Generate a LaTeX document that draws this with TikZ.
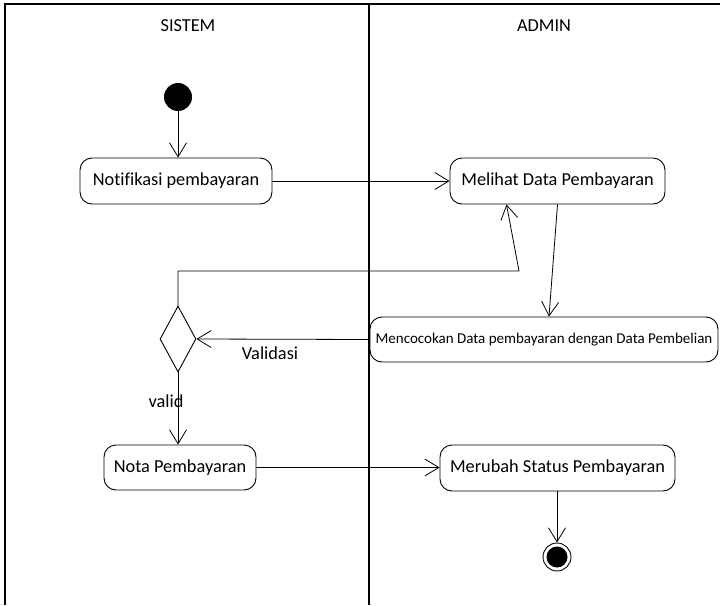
\documentclass[tikz,border=0pt]{standalone}
\usepackage{fontspec}
\setmainfont{Carlito}[Ligatures=NoCommon]
\usetikzlibrary{arrows.meta,shapes.geometric,calc}
\begin{document}
\begin{tikzpicture}[x=1pt,y=-1pt,
  lane/.style={line width=1.2pt},
  act/.style={draw,rounded corners=12pt,line width=0.9pt,inner sep=0pt,font=\fontsize{18.3}{20}\selectfont},
  flow/.style={line width=0.8pt,-{Straight Barb[length=14pt,width=17pt,line width=0.8pt]}},
  lbl/.style={font=\fontsize{18.3}{20}\selectfont,inner sep=0pt}]
  \useasboundingbox (0,0) rectangle (720,605);
  % swimlanes
  \draw[lane] (5,605) -- (5,4) -- (720,4);
  \draw[lane] (369,4) -- (369,605);
  \node[lbl] (lsistem) at (188,26) {SISTEM};
  \node[lbl] (ladmin) at (544,26) {ADMIN};
  % activities
  \node[circle,fill=black,minimum size=28pt,inner sep=0pt] (start) at (178,97) {};
  \node[act,minimum width=192pt,minimum height=46pt] (notif) at (176,181) {Notifikasi pembayaran};
  \node[act,minimum width=215pt,minimum height=46pt] (melihat) at (557.5,181) {Melihat Data Pembayaran};
  \node[act,minimum width=348pt,minimum height=45pt,font=\fontsize{15}{17}\selectfont] (cocok) at (544,339.5) {Mencocokan Data pembayaran dengan Data Pembelian};
  \node[diamond,draw,line width=0.9pt,inner sep=0pt,minimum width=36pt,minimum height=66pt] (dec) at (178,339) {};
  \node[act,minimum width=152pt,minimum height=45pt] (nota) at (180,467.5) {Nota Pembayaran};
  \node[act,minimum width=235pt,minimum height=46pt] (ubah) at (557.5,468) {Merubah Status Pembayaran};
  \node[circle,draw,line width=0.9pt,minimum size=28pt,inner sep=0pt] (end) at (557,557) {};
  \node[circle,fill=black,minimum size=21pt,inner sep=0pt] (endin) at (end) {};
  % flows
  \coordinate (loop) at (519,271);
  \draw[flow] (start.south) -- (start.south |- notif.north);
  \draw[flow] (notif.east) -- (notif.east -| melihat.west);
  \draw[flow] (dec.north) |- (loop) -- ($(melihat.south)+(-51,0)$);
  \draw[flow] (melihat.south) -- ($(cocok.north)+(5,0)$);
  \draw[flow] (cocok.west) -- (dec.east);
  \node[lbl] (lvalidasi) at (270,353) {Validasi};
  \draw[flow] (dec.south) -- (dec.south |- nota.north);
  \node[lbl] (lvalid) at (166,401) {valid};
  \draw[flow] (nota.east) -- (nota.east -| ubah.west);
  \draw[flow] (ubah.south -| end.north) -- (end.north);
\end{tikzpicture}
\end{document}
